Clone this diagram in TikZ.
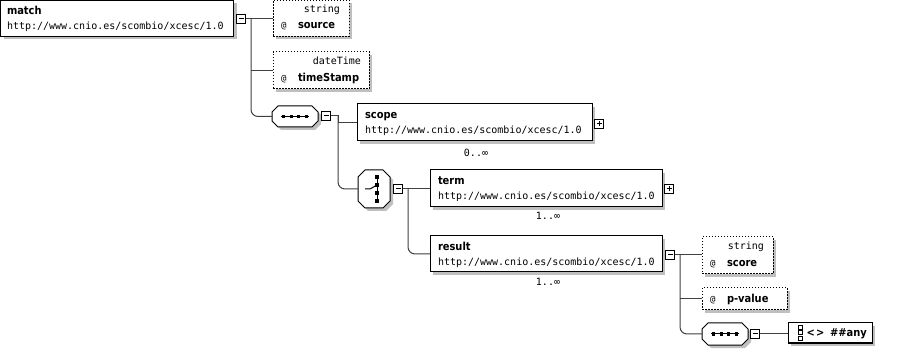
\documentclass[tikz,border=0pt]{standalone}
\usepackage{fontspec}
\setmainfont{DejaVu Sans}
\newfontfamily\monofam{DejaVu Sans Mono}
\newfontfamily\namefam{DejaVu Sans Bold}[FakeStretch=0.9]
\usetikzlibrary{shadows,calc}

\tikzset{
  every node/.style={inner sep=0pt, outer sep=0pt},
  dropshade/.style={general shadow={fill=black!25, shadow xshift=3pt, shadow yshift=-3pt}},
  elembox/.style={draw=black, fill=white, line width=1pt, anchor=north west, dropshade},
  attrbox/.style={elembox, dash pattern=on 1.5pt off 1.5pt},
  compbox/.style={anchor=north west},
  compshade/.style={fill=black!25, transform canvas={xshift=3pt, yshift=-3pt}},
  compline/.style={fill=white, draw=black, line width=1pt},
  togbox/.style={draw=black, fill=white, line width=1pt, minimum size=9pt},
  minusbox/.style={togbox, path picture={
    \draw[line width=1pt] ($(path picture bounding box.center)+(-2.5pt,0pt)$)
      -- ($(path picture bounding box.center)+(2.5pt,0pt)$);}},
  plusbox/.style={togbox, path picture={
    \draw[line width=1pt] ($(path picture bounding box.center)+(-2.5pt,0pt)$)
      -- ($(path picture bounding box.center)+(2.5pt,0pt)$);
    \draw[line width=1pt] ($(path picture bounding box.center)+(0pt,-2.5pt)$)
      -- ($(path picture bounding box.center)+(0pt,2.5pt)$);}},
  nametext/.style={anchor=base west, font=\namefam\fontsize{11}{13}\selectfont},
  uritext/.style={anchor=base west, font=\monofam\fontsize{10}{12}\selectfont},
  typetext/.style={anchor=base east, font=\monofam\fontsize{10}{12}\selectfont},
  attext/.style={anchor=base west, font=\monofam\fontsize{9}{11}\selectfont},
  multext/.style={anchor=base, font=\monofam\fontsize{10}{12}\selectfont},
  conn/.style={draw=black!75, line width=1pt},
  trunk/.style={conn, rounded corners=7pt},
  seqicon/.pic={
    \draw[line width=1pt] (-14,0) -- (14,0);
    \foreach \d in {-11.25,-3.75,3.75,11.25}
      \fill (\d,0) +(-1.6,-1.6) rectangle +(1.6,1.6);
  },
  choiceicon/.pic={
    \draw[line width=1pt] (3,-12) -- (3,12);
    \draw[line width=1pt] (-9,0) -- (-4,0) -- (3,-4);
    \foreach \d in {-12,-4,4,12}
      \fill (3,\d) +(-1.6,-1.8) rectangle +(1.6,1.8);
  },
}

% octagonal compositor outline (with its drop shadow) around node #1, corner cut #2
\newcommand\compshape[2]{%
  \fill[compshade]
    ($(#1.north west)+(#2,0)$) -- ($(#1.north east)+(-#2,0)$) --
    ($(#1.north east)+(0,#2)$) -- ($(#1.south east)+(0,-#2)$) --
    ($(#1.south east)+(-#2,0)$) -- ($(#1.south west)+(#2,0)$) --
    ($(#1.south west)+(0,-#2)$) -- ($(#1.north west)+(0,#2)$) -- cycle;
  \path[compline]
    ($(#1.north west)+(#2,0)$) -- ($(#1.north east)+(-#2,0)$) --
    ($(#1.north east)+(0,#2)$) -- ($(#1.south east)+(0,-#2)$) --
    ($(#1.south east)+(-#2,0)$) -- ($(#1.south west)+(#2,0)$) --
    ($(#1.south west)+(0,-#2)$) -- ($(#1.north west)+(0,#2)$) -- cycle;
}

\begin{document}
\begin{tikzpicture}[x=1pt,y=-1pt]
\useasboundingbox (0,0) rectangle (915,352);
\fill[white] (0,0) rectangle (915,352);

% ---- root element and its attributes
\node[elembox, minimum width=233pt, minimum height=36pt] (match) at (0.5,0.5) {};
\node[nametext] (matchname) at (7,15) {match};
\node[uritext] (matchuri) at (7,30) {http://www.cnio.es/scombio/xcesc/1.0};
\node[minusbox] (m1) at (241,19) {};

\node[attrbox, minimum width=76pt, minimum height=36pt] (source) at (273,0.5) {};
\node[typetext] (sourcetype) at (340,13) {string};
\node[attext] (sourceat) at (281,28.5) {@};
\node[nametext] (sourcename) at (298,29) {source};

\node[attrbox, minimum width=96pt, minimum height=37pt] (timeStamp) at (273,52) {};
\node[typetext] (tstype) at (361,65) {dateTime};
\node[attext] (tsat) at (281,81.5) {@};
\node[nametext] (tsname) at (298,82) {timeStamp};

% ---- outer sequence
\node[compbox, minimum width=46pt, minimum height=21pt] (seq1) at (272,106) {};
\compshape{seq1}{6}
\pic at (seq1.center) {seqicon};
\node[minusbox] (m2) at (326,116) {};

\node[elembox, minimum width=235pt, minimum height=37pt] (scope) at (357,104) {};
\node[nametext] (scopename) at (365,119) {scope};
\node[uritext] (scopeuri) at (365,134) {http://www.cnio.es/scombio/xcesc/1.0};
\node[plusbox] (p1) at (599,124) {};
\node[multext] (scopemult) at (476,157) {0..∞};

% ---- choice
\node[compbox, minimum width=32pt, minimum height=38pt] (choice) at (358,170) {};
\compshape{choice}{7}
\pic at (choice.center) {choiceicon};
\node[minusbox] (m3) at (398,189) {};

\node[elembox, minimum width=232pt, minimum height=37pt] (term) at (430,170) {};
\node[nametext] (termname) at (438,185) {term};
\node[uritext] (termuri) at (438,200) {http://www.cnio.es/scombio/xcesc/1.0};
\node[plusbox] (p2) at (669,189) {};
\node[multext] (termmult) at (548,220) {1..∞};

\node[elembox, minimum width=232pt, minimum height=36pt] (result) at (430,236) {};
\node[nametext] (resultname) at (438,251) {result};
\node[uritext] (resulturi) at (438,266) {http://www.cnio.es/scombio/xcesc/1.0};
\node[minusbox] (m4) at (670,255) {};
\node[multext] (resultmult) at (548,286) {1..∞};

% ---- result attributes and wildcard
\node[attrbox, minimum width=71pt, minimum height=37pt] (score) at (702,237) {};
\node[typetext] (scoretype) at (764,250) {string};
\node[attext] (scoreat) at (710,266.5) {@};
\node[nametext] (scorename) at (727,267) {score};

\node[attrbox, minimum width=85pt, minimum height=22pt] (pvalue) at (702,288) {};
\node[attext] (pvat) at (710,302.5) {@};
\node[nametext] (pvname) at (727,303) {p-value};

\node[compbox, minimum width=46pt, minimum height=22pt] (seq2) at (702,323) {};
\compshape{seq2}{6}
\pic at (seq2.center) {seqicon};
\node[minusbox] (m5) at (755,334) {};

\node[elembox, minimum width=84pt, minimum height=20pt] (any) at (788,323) {};
\foreach \yy in {327,332.5,338}
  \draw[line width=0.6pt] (798.5,\yy-2) rectangle (802.5,\yy+2);
\node[nametext] (anylt) at (806.5,337) {<};
\node[nametext] (anygt) at (816,337) {>};
\node[nametext] (anyname) at (830,337) {\#\#any};

% ---- connectors
\coordinate (t1) at (251,19);
\draw[conn] (m1.east) -- (source.west |- m1.east);
\draw[conn] (t1 |- timeStamp.west) -- (timeStamp.west);
\draw[trunk] (t1) |- (seq1.west);

\coordinate (t2) at (338,116);
\draw[conn] (m2.east) -- (t2) |- (scope.west);
\draw[trunk] (t2) |- (choice.west);

\coordinate (t3) at (408,189);
\draw[conn] (m3.east) -- (term.west |- m3.east);
\draw[trunk] (t3) |- (result.west);

\coordinate (t4) at (680,255);
\draw[conn] (m4.east) -- (score.west |- m4.east);
\draw[conn] (t4 |- pvalue.west) -- (pvalue.west);
\draw[trunk] (t4) |- (seq2.west);

\draw[conn] (m5.east) -- (any.west |- m5.east);
\end{tikzpicture}
\end{document}
